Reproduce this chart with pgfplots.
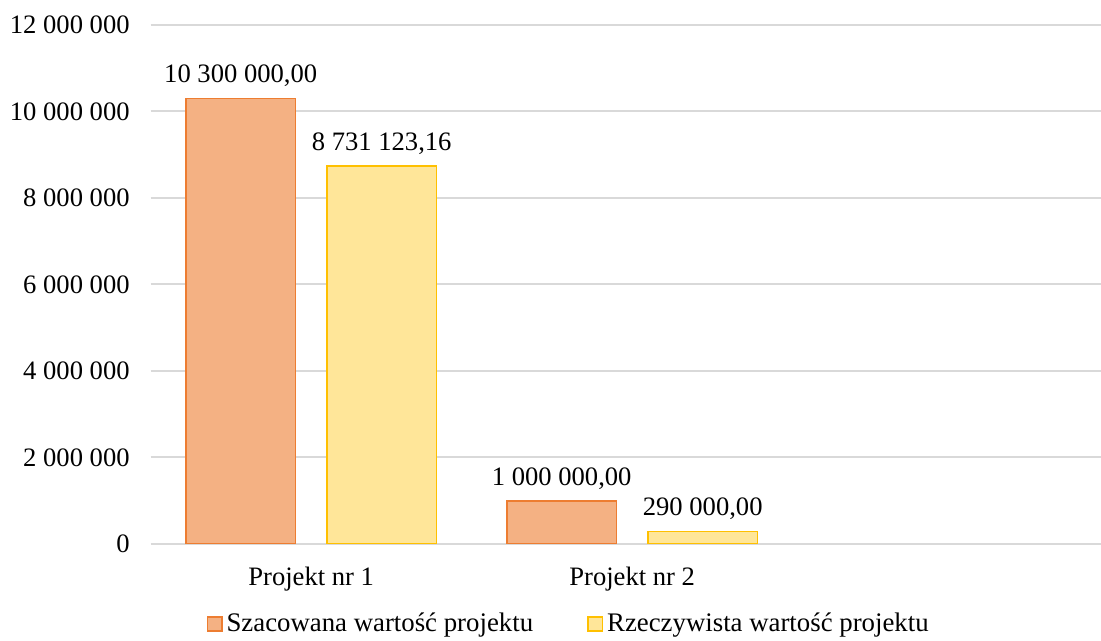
\documentclass[border=0pt]{standalone}
\usepackage{pgfplots}
\pgfplotsset{compat=1.18}
\usepackage{fontspec}
\setmainfont{Liberation Serif}

\definecolor{szacFill}{HTML}{F4B183}
\definecolor{szacEdge}{HTML}{ED7D31}
\definecolor{rzeczFill}{HTML}{FFE699}
\definecolor{rzeczEdge}{HTML}{FFC000}
\definecolor{gridgray}{HTML}{D9D9D9}

\begin{document}
\begin{tikzpicture}
% page = chart area; the axis runs a little past its right edge
\useasboundingbox (-75.35pt,-48.5pt) rectangle (475.15pt,272pt);
\begin{axis}[
    scale only axis,
    width=481.5pt, height=259.5pt,
    font=\fontsize{13.3}{16}\selectfont,
    ybar=15.75pt,
    bar width=54.75pt,
    xmin=-0.5, xmax=2.5,
    ymin=0, ymax=12000000,
    xtick={0,1},
    xticklabels={Projekt nr 1, Projekt nr 2},
    ytick={0,2000000,4000000,6000000,8000000,10000000,12000000},
    yticklabels={0, 2 000 000, 4 000 000, 6 000 000, 8 000 000, 10 000 000, 12 000 000},
    scaled y ticks=false,
    axis line style={draw=none},
    major tick length=0pt,
    ymajorgrids,
    grid style={draw=gridgray, line width=1pt},
    yticklabel style={xshift=-7pt},
    xticklabel style={yshift=-8pt},
    point meta=explicit symbolic,
    nodes near coords,
    nodes near coords style={font=\fontsize{13.3}{16}\selectfont, yshift=2pt},
    legend style={
        at={(0.435,-0.121)}, anchor=north,
        draw=none, legend columns=2,
        inner sep=1pt,
        font=\fontsize{13.4}{16}\selectfont,
        /tikz/every even column/.append style={column sep=25pt},
    },
    legend image code/.code={
        \draw[#1, line width=0.8pt] (0pt,-3.6pt) rectangle (7.2pt,3.6pt);
    },
    legend cell align=left,
]
\addplot[fill=szacFill, draw=szacEdge, line width=0.9pt]
    coordinates {(0,10300000) [10 300 000,00] (1,1000000) [1 000 000,00]};
\addplot[fill=rzeczFill, draw=rzeczEdge, line width=0.9pt]
    coordinates {(0,8731123.16) [8 731 123,16] (1,290000) [290 000,00]};
\legend{Szacowana wartość projektu, Rzeczywista wartość projektu}
\end{axis}
\end{tikzpicture}
\end{document}
